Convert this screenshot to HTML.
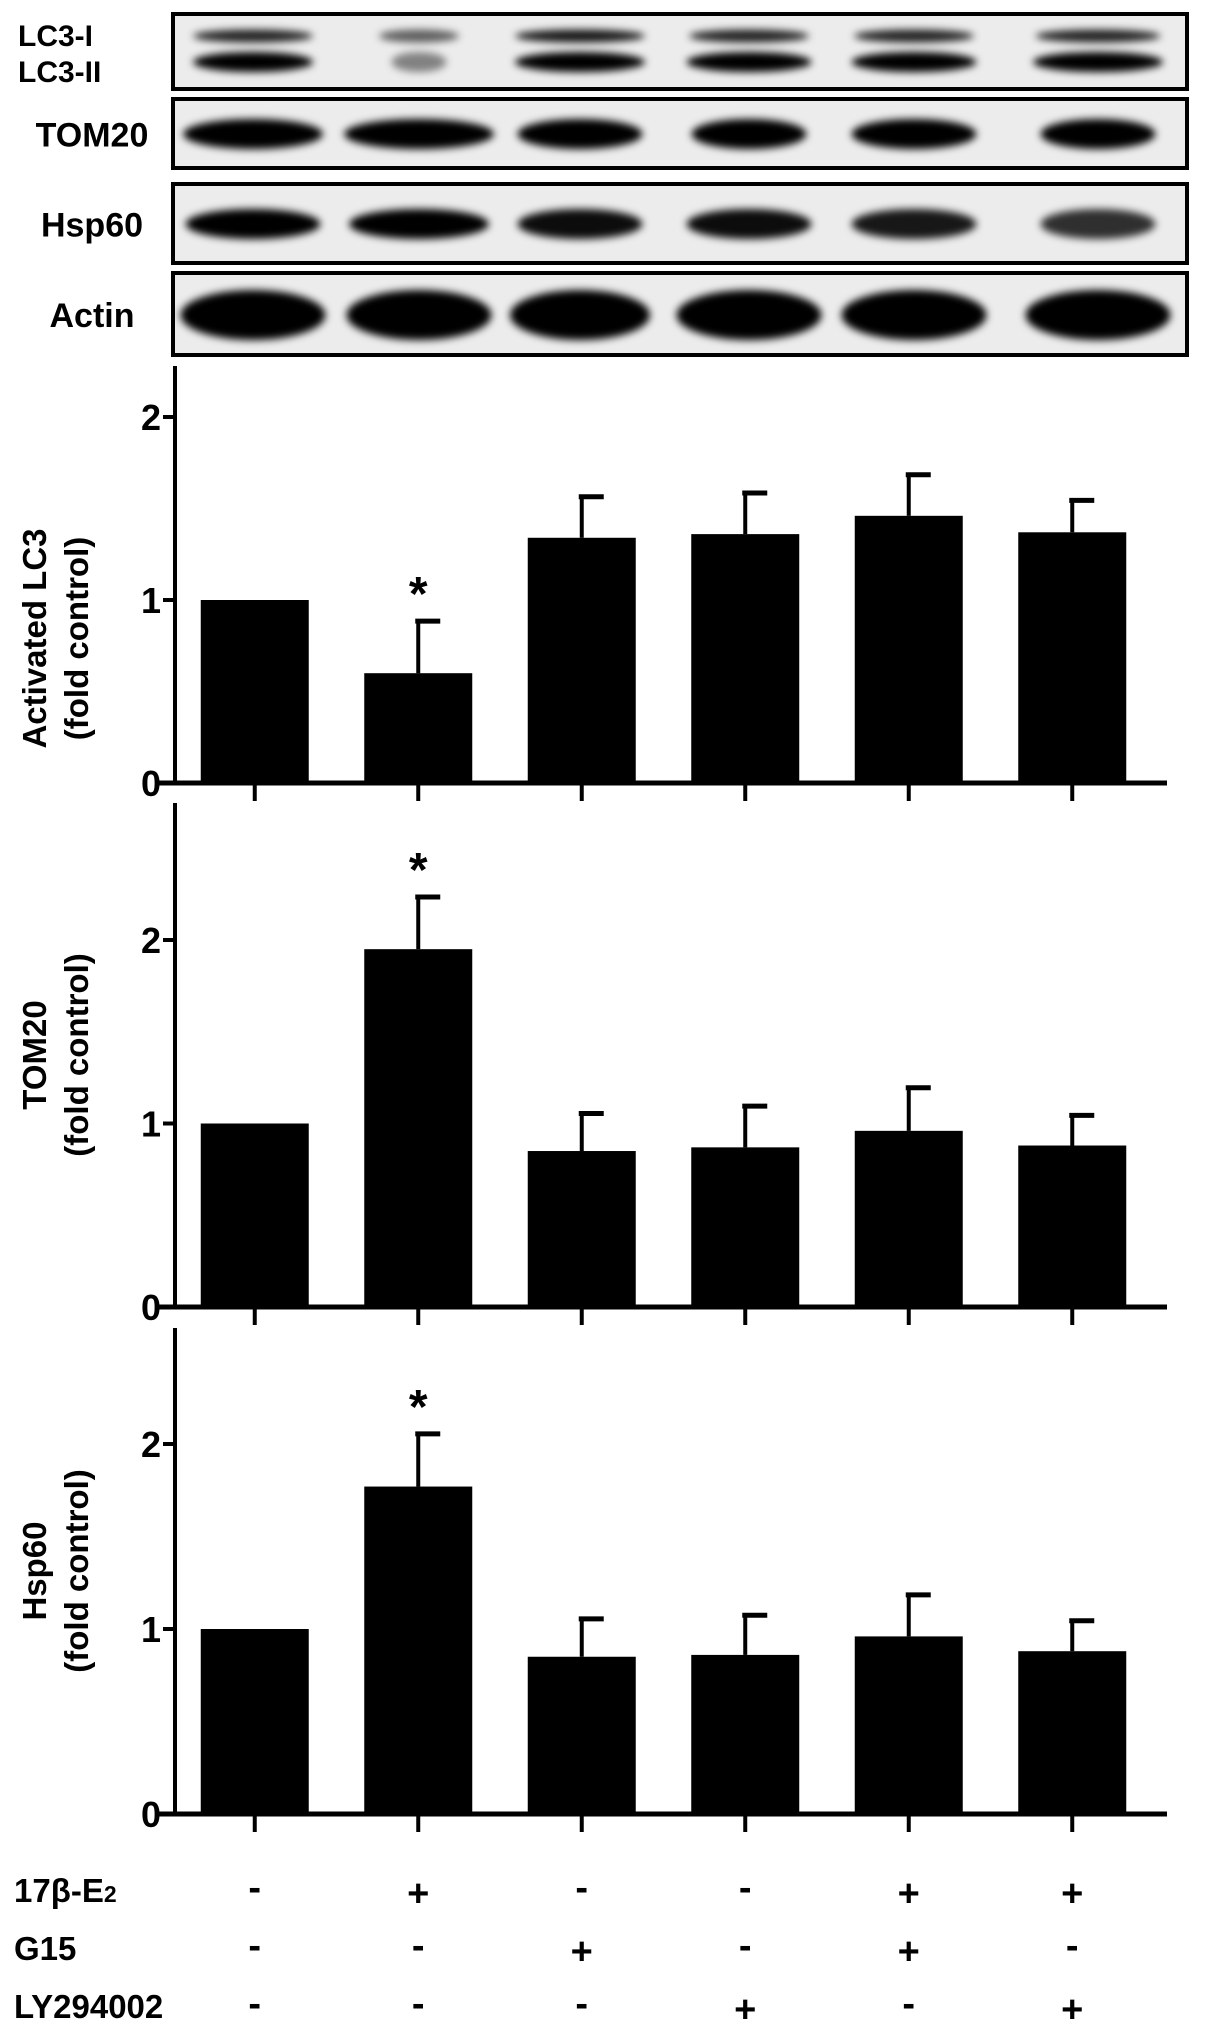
<!DOCTYPE html>
<html><head><meta charset="utf-8"><style>
html,body{margin:0;padding:0;background:#fff;}
svg{display:block;font-family:"Liberation Sans",Arial,sans-serif;font-weight:bold;}
.narrow{font-family:"Liberation Sans Narrow","Liberation Sans",Arial,sans-serif;}
</style></head><body>
<svg id="fig" width="1205" height="2030" viewBox="0 0 1205 2030">
<defs>
<filter id="blur2" x="-20%" y="-80%" width="140%" height="260%"><feGaussianBlur stdDeviation="4"/></filter>
</defs>
<g id="blots"></g>
<g id="charts"></g>
<g id="table"></g>
</svg>
<script>
const NS="http://www.w3.org/2000/svg";
function mk(tag,attrs,parent){const e=document.createElementNS(NS,tag);for(const k in attrs)e.setAttribute(k,attrs[k]);parent.appendChild(e);return e;}

// ---- data ----
const groups=["g1","g2","g3","g4","g5","g6"];
const lc3Values=[1.0,0.60,1.34,1.36,1.46,1.37];
const lc3Errors=[0,0.29,0.23,0.23,0.23,0.18];
const tom20Values=[1.0,1.95,0.85,0.87,0.96,0.88];
const tom20Errors=[0,0.29,0.21,0.23,0.24,0.17];
const hsp60Values=[1.0,1.77,0.85,0.86,0.96,0.88];
const hsp60Errors=[0,0.29,0.21,0.22,0.23,0.17];
const yTicks=[0,1,2];
const starFlagsLC3=[false,true,false,false,false,false];
const starFlagsTOM=[false,true,false,false,false,false];
const starFlagsHSP=[false,true,false,false,false,false];
const rowLabels=["17β-E","G15","LY294002"];
const e2Row=["-","+","-","-","+","+"];
const g15Row=["-","-","+","-","+","-"];
const lyRow=["-","-","-","+","-","+"];

// ---- layout ----
const axisX=175, axisEnd=1167, bandStart=175, bandW=163.5, barW=108;
function xC(i){return bandStart+bandW*(i+0.5)-2;}
const charts=[
 {name:"lc3",title1:"Activated  LC3",title2:"(fold control)",y0:783,unit:183,top:366,vals:lc3Values,errs:lc3Errors,stars:starFlagsLC3,off:64},
 {name:"tom20",title1:"TOM20",title2:"(fold control)",y0:1307,unit:183.5,top:803,vals:tom20Values,errs:tom20Errors,stars:starFlagsTOM,off:0},
 {name:"hsp60",title1:"Hsp60",title2:"(fold control)",y0:1814,unit:185,top:1328,vals:hsp60Values,errs:hsp60Errors,stars:starFlagsHSP,off:0}
];
const cg=document.getElementById('charts');
charts.forEach(c=>{
  const g=mk('g',{},cg);
  
  
  const yS=v=>c.y0-v*c.unit;
  c.vals.forEach((v,i)=>{
    const cx=xC(i);
    const b=mk('rect',{x:cx-barW/2,y:yS(v),width:barW,height:c.y0-yS(v),fill:'#000'},g);
    
    
    if(c.errs[i]>0){
      const et=yS(v+c.errs[i]);
      const el=mk('line',{x1:cx,x2:cx,y1:yS(v),y2:et,stroke:'#000','stroke-width':4},g);
      
      
      mk('line',{x1:cx-3,x2:cx+22,y1:et+1,y2:et+1,stroke:'#000','stroke-width':5},g);
      if(c.stars[i]){
        const s=mk('text',{x:cx,y:et-10,'text-anchor':'middle','font-size':48},g);
        s.textContent='*';
        
        
      }
    }
    mk('line',{x1:cx,x2:cx,y1:c.y0,y2:c.y0+18,stroke:'#000','stroke-width':4},g);
  });
  const ya=mk('line',{x1:axisX,x2:axisX,y1:c.top,y2:c.y0+2,stroke:'#000','stroke-width':4},g);
  
  
  const xa=mk('line',{x1:axisX-20,x2:axisEnd,y1:c.y0,y2:c.y0,stroke:'#000','stroke-width':5},g);
  
  
  yTicks.forEach(t=>{
    mk('line',{x1:axisX-12,x2:axisX,y1:yS(t),y2:yS(t),stroke:'#000','stroke-width':4},g);
    const tl=mk('text',{x:axisX-14,y:yS(t)+13,'text-anchor':'end','font-size':36},g);
    tl.textContent=t;
    
    
  });
  const cy=(c.y0+c.top)/2+c.off;
  const t1=mk('text',{x:0,y:0,'text-anchor':'middle','font-size':33,transform:`translate(46,${cy}) rotate(-90)`},g);
  t1.textContent=c.title1;
  t1.setAttribute('xml:space','preserve');
  
  
  const t2=mk('text',{x:0,y:0,'text-anchor':'middle','font-size':33,transform:`translate(88,${cy}) rotate(-90)`},g);
  t2.textContent=c.title2;
  
  
});

// ---- treatment table ----
const tg=document.getElementById('table');
const rows=[e2Row,g15Row,lyRow], rowY=[1902,1960,2018];
rows.forEach((r,ri)=>{
  const lab=mk('text',{x:14,y:rowY[ri],'font-size':33,class:'narrow'},tg);
  lab.textContent=rowLabels[ri];
  if(ri===0){const sub=mk('tspan',{'font-size':23},lab);sub.textContent='2';}
  
  
  r.forEach((s,i)=>{
    const t=mk('text',{x:xC(i),y:rowY[ri]+(s==='+'?4:-2),'text-anchor':'middle','font-size':38},tg);
    t.textContent=s;
    
    
  });
});

// ---- blots ----
const bg=document.getElementById('blots');
const lanes=[253,419,580,749,914,1098];
const blots=[
 {label:"",y:14,h:75,name:"lc3-blot",bands:[{dy:22,h:9,w:[120,80,130,120,120,125],a:[0.85,0.6,0.9,0.85,0.85,0.85]},{dy:48,h:16,w:[120,55,130,125,125,130],a:[1,0.45,1,1,1,1]}]},
 {label:"TOM20",y:99,h:69,name:"tom20-blot",bands:[{dy:35,h:26,w:[140,150,125,115,125,115],a:[1,1,1,1,1,1]}]},
 {label:"Hsp60",y:184,h:79,name:"hsp60-blot",bands:[{dy:40,h:26,w:[135,140,125,125,125,115],a:[1,1,0.95,0.95,0.9,0.8]}]},
 {label:"Actin",y:273,h:82,name:"actin-blot",bands:[{dy:42,h:46,w:[145,145,140,145,145,145],a:[1,1,1,1,1,1]}]}
];
blots.forEach(b=>{
  const g=mk('g',{},bg);
  
  
  mk('rect',{x:173,y:b.y,width:1014,height:b.h,fill:'#ececec'},g);
  b.bands.forEach(bd=>{
    lanes.forEach((lx,i)=>{
      mk('ellipse',{cx:lx,cy:b.y+bd.dy,rx:bd.w[i]/2,ry:bd.h/2+2,fill:'#000','fill-opacity':bd.a[i],filter:'url(#blur2)'},g);
    });
  });
  mk('rect',{x:173,y:b.y,width:1014,height:b.h,fill:'none',stroke:'#000','stroke-width':4},g);
  if(b.label){
    const t=mk('text',{x:92,y:b.y+b.h/2+13,'text-anchor':'middle','font-size':34,class:'narrow'},g);
    t.textContent=b.label;
    
    
  }
});
const l1=mk('text',{x:18,y:46,'font-size':30,class:'narrow'},bg);l1.textContent='LC3-I';


const l2=mk('text',{x:18,y:82,'font-size':30,class:'narrow'},bg);l2.textContent='LC3-II';


</script>
</body></html>
